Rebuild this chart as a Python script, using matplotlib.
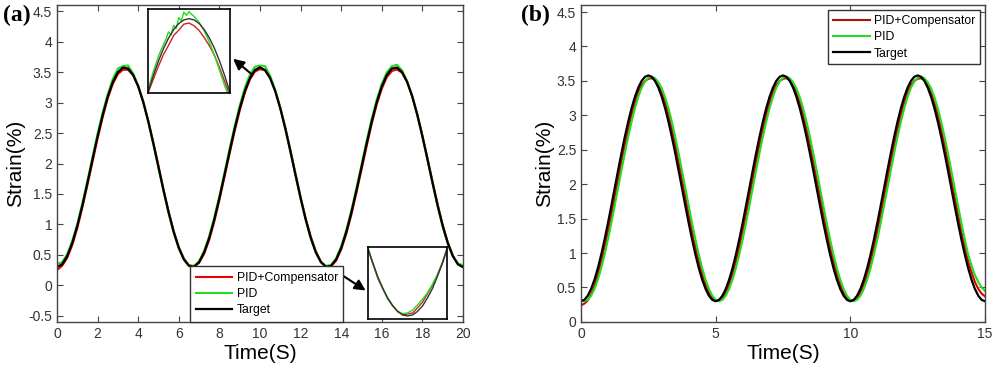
import numpy as np
import matplotlib
matplotlib.use("Agg")
import matplotlib.pyplot as plt

plt.rcParams['font.family'] = ['Liberation Sans', 'DejaVu Sans']

# ---------------- dados do painel (a) : periodo ~6.67 s, passo 0.25 s ----------------
time_a = np.arange(0, 20.001, 0.25)

target_a = [0.300, 0.345, 0.479, 0.693, 0.976, 1.312, 1.684, 2.069, 2.447, 2.797, 3.100, 3.338, 3.500, 3.575,
            3.560, 3.455, 3.267, 3.005, 2.685, 2.323, 1.940, 1.557, 1.195, 0.875, 0.613, 0.425, 0.320, 0.305,
            0.380, 0.542, 0.780, 1.083, 1.433, 1.811, 2.197, 2.568, 2.904, 3.187, 3.401, 3.535, 3.580,
            3.535, 3.401, 3.187, 2.904, 2.568, 2.197, 1.811, 1.433, 1.083, 0.780, 0.542, 0.380, 0.305, 0.320,
            0.425, 0.613, 0.875, 1.195, 1.557, 1.940, 2.323, 2.685, 3.005, 3.267, 3.455, 3.560, 3.575, 3.500,
            3.338, 3.100, 2.797, 2.447, 2.069, 1.684, 1.312, 0.976, 0.693, 0.479, 0.345, 0.300]

comp_a = [0.250, 0.320, 0.450, 0.660, 0.940, 1.280, 1.650, 2.030, 2.410, 2.760, 3.070, 3.310, 3.470, 3.540,
          3.540, 3.450, 3.270, 3.020, 2.700, 2.340, 1.960, 1.570, 1.210, 0.890, 0.630, 0.440, 0.330, 0.310,
          0.370, 0.520, 0.750, 1.050, 1.400, 1.780, 2.160, 2.530, 2.870, 3.160, 3.380, 3.510, 3.550,
          3.530, 3.410, 3.200, 2.920, 2.590, 2.220, 1.830, 1.450, 1.100, 0.800, 0.560, 0.390, 0.310, 0.315,
          0.405, 0.590, 0.845, 1.160, 1.520, 1.900, 2.280, 2.650, 2.970, 3.230, 3.420, 3.520, 3.545, 3.490,
          3.340, 3.110, 2.810, 2.460, 2.090, 1.700, 1.330, 0.990, 0.710, 0.490, 0.350, 0.300]

pid_a = [0.350, 0.380, 0.510, 0.730, 1.010, 1.350, 1.720, 2.110, 2.490, 2.840, 3.140, 3.390, 3.560, 3.600,
         3.610, 3.480, 3.280, 3.010, 2.680, 2.310, 1.920, 1.540, 1.180, 0.860, 0.610, 0.430, 0.330, 0.320,
         0.400, 0.570, 0.810, 1.120, 1.470, 1.850, 2.240, 2.610, 2.950, 3.240, 3.460, 3.590, 3.610,
         3.600, 3.440, 3.210, 2.910, 2.570, 2.190, 1.800, 1.420, 1.070, 0.770, 0.540, 0.385, 0.320, 0.335,
         0.445, 0.640, 0.910, 1.230, 1.600, 1.980, 2.370, 2.730, 3.050, 3.310, 3.500, 3.600, 3.620, 3.530,
         3.350, 3.100, 2.790, 2.440, 2.060, 1.670, 1.300, 0.960, 0.690, 0.480, 0.360, 0.330]

# zoom do pico (t ~ 10 s)
zoom1_t = [9.0, 9.125, 9.25, 9.375, 9.5, 9.625, 9.75, 9.875, 10.0, 10.125, 10.25, 10.375, 10.5, 10.625,
           10.75, 10.875, 11.0]
zoom1_target = [2.904, 3.053, 3.187, 3.304, 3.401, 3.479, 3.535, 3.569, 3.580, 3.569, 3.535, 3.479, 3.401,
                3.304, 3.187, 3.053, 2.904]
zoom1_comp = [2.900, 3.020, 3.140, 3.250, 3.335, 3.425, 3.475, 3.530, 3.540, 3.515, 3.470, 3.405, 3.330,
              3.240, 3.125, 3.000, 2.870]
zoom1_pid_t = [9.0, 9.0625, 9.125, 9.1875, 9.25, 9.3125, 9.375, 9.4375, 9.5, 9.5625, 9.625, 9.6875, 9.75,
               9.8125, 9.875, 9.9375, 10.0, 10.0625, 10.125, 10.1875, 10.25, 10.3125, 10.375, 10.4375, 10.5,
               10.5625, 10.625, 10.6875, 10.75, 10.8125, 10.875, 10.9375, 11.0]
zoom1_pid = [2.920, 3.010, 3.090, 3.160, 3.230, 3.290, 3.340, 3.390, 3.460, 3.430, 3.520, 3.490, 3.590,
             3.560, 3.640, 3.610, 3.645, 3.620, 3.600, 3.575, 3.545, 3.505, 3.465, 3.415, 3.360, 3.300, 3.240,
             3.170, 3.100, 3.030, 2.960, 2.900, 2.850]

# zoom do vale (t ~ 13.3 s)
zoom2_t = [12.33, 12.46, 12.58, 12.71, 12.83, 12.96, 13.08, 13.21, 13.33, 13.46, 13.58, 13.71, 13.83, 13.96,
           14.08, 14.21, 14.33]
zoom2_target = [0.976, 0.827, 0.693, 0.576, 0.479, 0.401, 0.345, 0.311, 0.300, 0.311, 0.345, 0.401, 0.479,
                0.576, 0.693, 0.827, 0.976]
zoom2_comp = [0.980, 0.820, 0.680, 0.570, 0.480, 0.400, 0.350, 0.310, 0.320, 0.330, 0.380, 0.440, 0.520,
              0.610, 0.710, 0.840, 0.980]
zoom2_pid = [0.990, 0.830, 0.690, 0.570, 0.470, 0.400, 0.345, 0.325, 0.330, 0.360, 0.410, 0.470, 0.530,
             0.620, 0.710, 0.830, 0.970]

# ---------------- dados do painel (b) : periodo 5 s, passo 0.125 s ----------------
time_b = np.arange(0, 15.001, 0.125)

target_b = [0.300, 0.320, 0.380, 0.479, 0.613, 0.780, 0.976, 1.195, 1.433, 1.684, 1.940, 2.197, 2.447, 2.685,
            2.904, 3.100, 3.267, 3.401, 3.500, 3.560, 3.580, 3.560, 3.500, 3.401, 3.267, 3.100, 2.904, 2.685,
            2.447, 2.197, 1.940, 1.684, 1.433, 1.195, 0.976, 0.780, 0.613, 0.479, 0.380, 0.320,
            0.300, 0.320, 0.380, 0.479, 0.613, 0.780, 0.976, 1.195, 1.433, 1.684, 1.940, 2.197, 2.447, 2.685,
            2.904, 3.100, 3.267, 3.401, 3.500, 3.560, 3.580, 3.560, 3.500, 3.401, 3.267, 3.100, 2.904, 2.685,
            2.447, 2.197, 1.940, 1.684, 1.433, 1.195, 0.976, 0.780, 0.613, 0.479, 0.380, 0.320,
            0.300, 0.320, 0.380, 0.479, 0.613, 0.780, 0.976, 1.195, 1.433, 1.684, 1.940, 2.197, 2.447, 2.685,
            2.904, 3.100, 3.267, 3.401, 3.500, 3.560, 3.580, 3.560, 3.500, 3.401, 3.267, 3.100, 2.904, 2.685,
            2.447, 2.197, 1.940, 1.684, 1.433, 1.195, 0.976, 0.780, 0.613, 0.479, 0.380, 0.320,
            0.300]

comp_b = [0.240, 0.265, 0.310, 0.400, 0.520, 0.693, 0.875, 1.083, 1.312, 1.557, 1.811, 2.069, 2.323, 2.568,
          2.797, 3.005, 3.187, 3.338, 3.440, 3.500, 3.530, 3.540, 3.510, 3.440, 3.330, 3.180, 3.005, 2.797,
          2.568, 2.323, 2.069, 1.811, 1.557, 1.312, 1.083, 0.875, 0.693, 0.542, 0.425, 0.345,
          0.310, 0.305, 0.345, 0.425, 0.542, 0.693, 0.875, 1.083, 1.312, 1.557, 1.811, 2.069, 2.323, 2.568,
          2.797, 3.005, 3.187, 3.338, 3.440, 3.500, 3.530, 3.540, 3.510, 3.440, 3.330, 3.180, 3.005, 2.797,
          2.568, 2.323, 2.069, 1.811, 1.557, 1.312, 1.083, 0.875, 0.693, 0.542, 0.425, 0.345,
          0.310, 0.305, 0.345, 0.425, 0.542, 0.693, 0.875, 1.083, 1.312, 1.557, 1.811, 2.069, 2.323, 2.568,
          2.797, 3.005, 3.187, 3.338, 3.440, 3.500, 3.530, 3.540, 3.510, 3.440, 3.330, 3.180, 3.005, 2.797,
          2.568, 2.323, 2.069, 1.811, 1.557, 1.312, 1.083, 0.875, 0.720, 0.580, 0.480, 0.410,
          0.370]

pid_b = [0.310, 0.300, 0.320, 0.380, 0.479, 0.613, 0.780, 0.976, 1.195, 1.433, 1.684, 1.940, 2.197, 2.447,
         2.685, 2.904, 3.100, 3.267, 3.401, 3.490, 3.545, 3.560, 3.540, 3.480, 3.390, 3.260, 3.100, 2.904,
         2.685, 2.447, 2.197, 1.940, 1.684, 1.433, 1.195, 0.976, 0.780, 0.613, 0.479, 0.380,
         0.320, 0.300, 0.320, 0.380, 0.479, 0.613, 0.780, 0.976, 1.195, 1.433, 1.684, 1.940, 2.197, 2.447,
         2.685, 2.904, 3.100, 3.267, 3.401, 3.490, 3.545, 3.560, 3.540, 3.480, 3.390, 3.260, 3.100, 2.904,
         2.685, 2.447, 2.197, 1.940, 1.684, 1.433, 1.195, 0.976, 0.780, 0.613, 0.479, 0.380,
         0.320, 0.300, 0.320, 0.380, 0.479, 0.613, 0.780, 0.976, 1.195, 1.433, 1.684, 1.940, 2.197, 2.447,
         2.685, 2.904, 3.100, 3.267, 3.401, 3.490, 3.545, 3.560, 3.540, 3.480, 3.390, 3.260, 3.100, 2.904,
         2.685, 2.447, 2.197, 1.940, 1.684, 1.433, 1.195, 0.976, 0.820, 0.680, 0.580, 0.500,
         0.450]

labels = ["PID+Compensator", "PID", "Target"]
yticks_a = [-0.5, 0, 0.5, 1, 1.5, 2, 2.5, 3, 3.5, 4, 4.5]
yticks_b = [0, 0.5, 1, 1.5, 2, 2.5, 3, 3.5, 4, 4.5]

green = "#22dd22"
gray = "#444444"


def style_axes(ax):
    """Estilo tipo MATLAB: ticks para dentro nos quatro lados."""
    ax.tick_params(direction="in", top=True, right=True, length=4, labelsize=10,
                   colors=gray, labelcolor="#333333")
    for s in ax.spines.values():
        s.set_color(gray)
        s.set_linewidth(1.0)


fig = plt.figure(figsize=(10, 3.7), dpi=100)

# ---------------- painel (a) ----------------
ax1 = fig.add_axes([0.057, 0.130, 0.406, 0.856])
ax1.plot(time_a, comp_a, color="#ee0000", lw=1.5, label=labels[0])
ax1.plot(time_a, pid_a, color=green, lw=1.5, label=labels[1])
ax1.plot(time_a, target_a, color="black", lw=1.6, label=labels[2])
ax1.set_xlim(0, 20)
ax1.set_ylim(-0.6, 4.6)
ax1.set_xticks(range(0, 21, 2))
ax1.set_yticks(yticks_a)
ax1.set_yticklabels([("%g" % v) for v in yticks_a])
ax1.set_xlabel("Time(S)", fontsize=15, labelpad=2)
ax1.set_ylabel("Strain(%)", fontsize=15, labelpad=2)
style_axes(ax1)
leg1 = ax1.legend(loc="lower left", bbox_to_anchor=(0.328, 0.0), borderaxespad=0, fontsize=8.8,
                  handlelength=3.0, handletextpad=0.35, labelspacing=0.35, borderpad=0.45,
                  fancybox=False, edgecolor="#333333", framealpha=1)
leg1.get_frame().set_linewidth(1.0)

# inset do pico
ins1 = fig.add_axes([0.148, 0.749, 0.082, 0.227])
ins1.plot(zoom1_t, zoom1_comp, color="#cc2222", lw=1.0)
ins1.plot(zoom1_pid_t, zoom1_pid, color=green, lw=1.0)
ins1.plot(zoom1_t, zoom1_target, color="#333333", lw=1.0)
ins1.set_xlim(9.0, 11.0)
ins1.set_ylim(2.9, 3.67)
ins1.set_xticks([])
ins1.set_yticks([])
for s in ins1.spines.values():
    s.set_linewidth(1.2)

# inset do vale
ins2 = fig.add_axes([0.368, 0.138, 0.079, 0.195])
ins2.plot(zoom2_t, zoom2_comp, color="#cc2222", lw=1.0)
ins2.plot(zoom2_t, zoom2_pid, color=green, lw=1.0)
ins2.plot(zoom2_t, zoom2_target, color="#333333", lw=1.0)
ins2.set_xlim(12.33, 14.33)
ins2.set_ylim(0.27, 1.0)
ins2.set_xticks([])
ins2.set_yticks([])
for s in ins2.spines.values():
    s.set_linewidth(1.2)

# setas apontando para os insets
ax1.annotate("", xy=(0.231, 1 - 57 / 370), xycoords="figure fraction",
             xytext=(9.65, 3.45), textcoords="data",
             arrowprops=dict(arrowstyle="-|>", color="black", lw=1.5, mutation_scale=16))
ax1.annotate("", xy=(0.368, 1 - 292 / 370), xycoords="figure fraction",
             xytext=(13.8, 0.22), textcoords="data",
             arrowprops=dict(arrowstyle="-|>", color="black", lw=1.5, mutation_scale=16))

# ---------------- painel (b) ----------------
ax2 = fig.add_axes([0.581, 0.130, 0.404, 0.856])
ax2.plot(time_b, comp_b, color="#e00000", lw=1.5, label=labels[0])
ax2.plot(time_b, pid_b, color=green, lw=1.5, label=labels[1])
ax2.plot(time_b, target_b, color="black", lw=1.6, label=labels[2])
ax2.set_xlim(0, 15)
ax2.set_ylim(0, 4.6)
ax2.set_xticks([0, 5, 10, 15])
ax2.set_yticks(yticks_b)
ax2.set_yticklabels([("%g" % v) for v in yticks_b])
ax2.set_xlabel("Time(S)", fontsize=15, labelpad=2)
ax2.set_ylabel("Strain(%)", fontsize=15, labelpad=2)
style_axes(ax2)
leg2 = ax2.legend(loc="upper right", borderaxespad=0.4, fontsize=8.8, handlelength=3.0,
                  handletextpad=0.35, labelspacing=0.35, fancybox=False, edgecolor="#333333",
                  framealpha=1)
leg2.get_frame().set_linewidth(1.0)
leg2.get_lines()[0].set_color("#aa1111")

# rotulos (a) e (b)
fig.text(0.003, 0.957, "(a)", fontsize=17, fontweight="bold", family="Liberation Serif", va="center")
fig.text(0.521, 0.957, "(b)", fontsize=17, fontweight="bold", family="Liberation Serif", va="center")

fig.savefig("out.png", dpi=100)
